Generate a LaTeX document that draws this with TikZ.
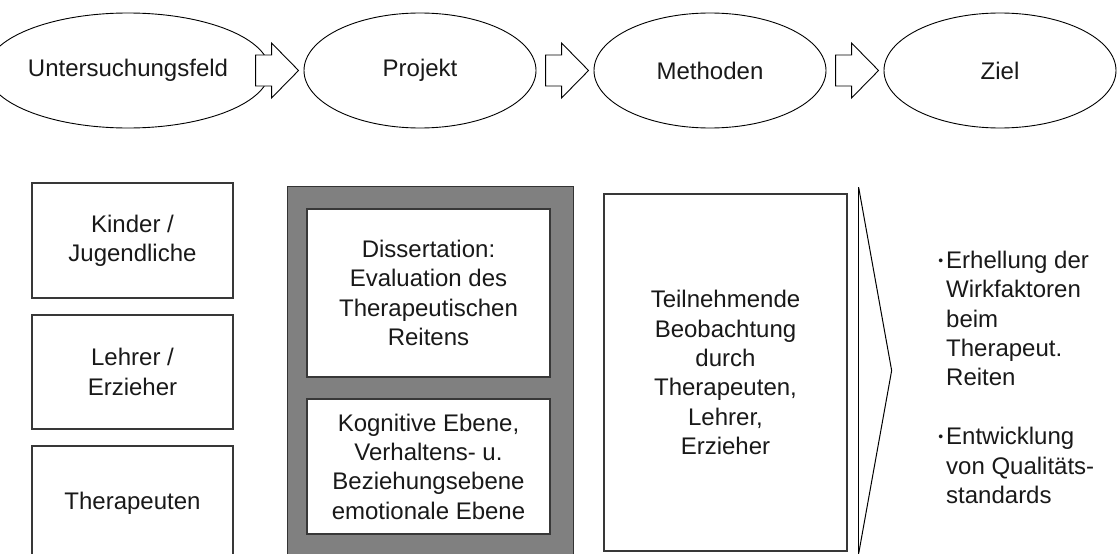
\documentclass[tikz,border=0pt]{standalone}
\usepackage{fontspec}
\setmainfont{Liberation Sans}
\usetikzlibrary{calc,shapes.geometric}
\newcommand\listdot{\llap{\raisebox{3pt}{\fontsize{14}{14}\selectfont •}\hspace{3pt}}}
\begin{document}
\begin{tikzpicture}[x=1pt,y=-1pt,
  every node/.style={font=\fontsize{24}{29.3}\selectfont, inner sep=0pt, text=black!90},
  oval/.style={draw=black, line width=0.9pt, ellipse, minimum width=232pt, minimum height=115pt},
  cell/.style={draw=black!78, line width=1.3pt, fill=white, rectangle, align=center},
  frame/.style={draw=black!80, line width=1pt, fill=black!50, rectangle},
  blockarrow/.style={draw=black, line width=0.9pt, fill=white, line join=miter},
  chevron/.style={draw=black, line width=1pt, line join=miter},
]
\useasboundingbox (0,0) rectangle (1117,554);
\clip (0,0) rectangle (1117,554);

% top row: four stages
\node[oval] (e1) at (128,70.5)  {Untersuchungsfeld};
\node[oval] (e2) at (420,70.5)  {Projekt};
\node[oval] (e3) at (710,70.5)  {Methoden};
\node[oval] (e4) at (1000,70.5) {Ziel};

% block arrows between the stages, tip just before the next oval
\foreach \nxt in {e2,e3,e4}{
  \draw[blockarrow] ($(\nxt.west)+(-5,0)$) -- ++(-27,-27.5) -- ++(0,12) -- ++(-16,0)
    -- ++(0,31) -- ++(16,0) -- ++(0,12) -- cycle;
}

% left column: participants
\node[cell, minimum width=201pt, minimum height=115pt] (kids)  at (132.5,240.5) {Kinder /\\Jugendliche};
\node[cell, minimum width=201pt, minimum height=114pt] (staff) at (132.5,372)   {Lehrer /\\Erzieher};
\node[cell, minimum width=201pt, minimum height=114pt] (ther)  at (132.5,503)   {Therapeuten};

% project: shaded frame with two inner boxes
\node[frame, minimum width=286pt, minimum height=400pt] (proj) at (430,386) {};
\node[cell, minimum width=243pt, minimum height=168pt] (diss) at (428.5,293)
  {Dissertation:\\Evaluation des\\Therapeutischen\\Reitens};
\node[cell, minimum width=243pt, minimum height=135pt] (levels) at (428.5,466.5)
  {Kognitive Ebene,\\Verhaltens- u.\\Beziehungsebene\\emotionale Ebene};

% methods
\node[cell, minimum width=243pt, minimum height=357pt] (obs) at (725.5,372.5)
  {Teilnehmende\\Beobachtung\\durch\\Therapeuten,\\Lehrer,\\Erzieher};

% chevron pointing to the goals
\coordinate (ct) at ($(obs.north east)+(11,-6)$);
\coordinate (cb) at ($(obs.south east)+(11,2)$);
\coordinate (cp) at ($(obs.east)+(44,-2)$);
\draw[chevron, line width=1.4pt] (ct) -- (cb);
\draw[chevron] (ct) -- (cp) -- (cb);

% goals
\node[anchor=west, align=left] (g1) at (946,318.5)
  {\listdot Erhellung der\\Wirkfaktoren\\beim\\Therapeut.\\Reiten};
\node[anchor=west, align=left] (g2) at (946,465.5)
  {\listdot Entwicklung\\von Qualitäts-\\standards};
\end{tikzpicture}
\end{document}
